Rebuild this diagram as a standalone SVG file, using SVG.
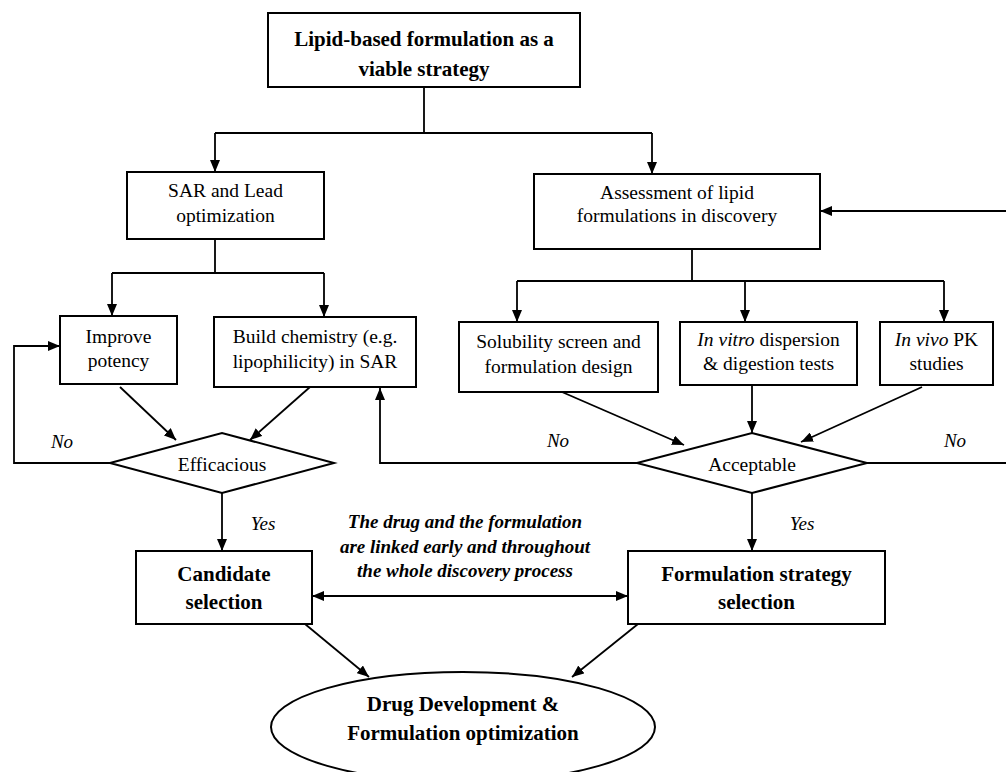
<svg xmlns="http://www.w3.org/2000/svg" width="1006" height="772" viewBox="0 0 1006 772">
<defs>
<marker id="ah" markerUnits="userSpaceOnUse" markerWidth="12" markerHeight="10" refX="12" refY="5" orient="auto-start-reverse">
<path d="M0,0 L12,5 L0,10 z" fill="#000"/>
</marker>
<style>
.box{fill:#fff;stroke:#000;stroke-width:2}
.ln{fill:none;stroke:#000;stroke-width:1.8}
.ar{fill:none;stroke:#000;stroke-width:1.8;marker-end:url(#ah)}
text{font-family:"Liberation Serif","Times New Roman",serif;fill:#000;text-anchor:middle}
.t{font-size:19.5px}
.b{font-size:21px;font-weight:bold}
.i{font-style:italic}
.lab{font-size:19px;font-style:italic}
.note{font-size:19px;font-weight:bold;font-style:italic}
</style>
</defs>
<rect width="1006" height="772" fill="#fff"/>

<g id="connectors">
<path class="ln" d="M424,87 V133 M215,133 H652"/>
<path class="ar" d="M215,133 V172"/>
<path class="ar" d="M652,133 V174"/>
<path class="ln" d="M215,239 V273 M112,273 H324"/>
<path class="ar" d="M112,273 V316"/>
<path class="ar" d="M324,273 V317"/>
<path class="ar" d="M120,387 L176,440"/>
<path class="ar" d="M310,387 L250,440"/>
<path class="ar" d="M110,463 H14 V346 H60"/>
<path class="ar" d="M222,493 V551"/>
<path class="ar" d="M1006,211 H820"/>
<path class="ln" d="M692,249 V281 M517,281 H944"/>
<path class="ar" d="M517,281 V322"/>
<path class="ar" d="M745,281 V322"/>
<path class="ar" d="M944,281 V322"/>
<path class="ar" d="M562,392 L684,445"/>
<path class="ar" d="M752,385 V433"/>
<path class="ar" d="M922,387 L801,442"/>
<path class="ar" d="M637,463 H380 V388"/>
<path class="ln" d="M867,463 H1006"/>
<path class="ar" d="M752,493 V551"/>
<path class="ar" d="M312,596 H628" style="marker-start:url(#ah)"/>
<path class="ar" d="M305,624 L369,677"/>
<path class="ar" d="M638,624 L572,677"/>
</g>

<g id="labels">
<text class="lab" x="62" y="448">No</text>
<text class="lab" x="558" y="447">No</text>
<text class="lab" x="955" y="447">No</text>
<text class="lab" x="263" y="530">Yes</text>
<text class="lab" x="802" y="530">Yes</text>
<text class="note" x="465" y="528">The drug and the formulation</text>
<text class="note" x="465" y="553">are linked early and throughout</text>
<text class="note" x="465" y="577">the whole discovery process</text>
</g>

<g id="n-top">
<rect class="box" x="268" y="13" width="312" height="74"/>
<text class="b" x="424" y="46">Lipid-based formulation as a</text>
<text class="b" x="424" y="76">viable strategy</text>
</g>

<g id="n-sar">
<rect class="box" x="127" y="172" width="197" height="67"/>
<text class="t" x="225.5" y="197">SAR and Lead</text>
<text class="t" x="225.5" y="222">optimization</text>
</g>

<g id="n-assess">
<rect class="box" x="534" y="174" width="286" height="75"/>
<text class="t" x="677" y="199">Assessment of lipid</text>
<text class="t" x="677" y="222">formulations in discovery</text>
</g>

<g id="n-potency">
<rect class="box" x="60" y="316" width="117" height="68"/>
<text class="t" x="118.5" y="343">Improve</text>
<text class="t" x="118.5" y="367">potency</text>
</g>

<g id="n-build">
<rect class="box" x="214" y="317" width="202" height="70"/>
<text class="t" x="315" y="343">Build chemistry (e.g.</text>
<text class="t" x="315" y="368">lipophilicity) in SAR</text>
</g>

<g id="n-solubility">
<rect class="box" x="459" y="322" width="199" height="70"/>
<text class="t" x="558.5" y="348">Solubility screen and</text>
<text class="t" x="558.5" y="373">formulation design</text>
</g>

<g id="n-invitro">
<rect class="box" x="680" y="322" width="177" height="63"/>
<text class="t" x="768.5" y="346"><tspan class="i">In vitro</tspan> dispersion</text>
<text class="t" x="768.5" y="370">&amp; digestion tests</text>
</g>

<g id="n-invivo">
<rect class="box" x="880" y="322" width="113" height="63"/>
<text class="t" x="936.5" y="346"><tspan class="i">In vivo</tspan> PK</text>
<text class="t" x="936.5" y="370">studies</text>
</g>

<g id="n-efficacious">
<polygon class="box" points="110,463 222,433 334,463 222,493"/>
<text class="t" x="222" y="471">Efficacious</text>
</g>

<g id="n-acceptable">
<polygon class="box" points="637,463 752,433 867,463 752,493"/>
<text class="t" x="752" y="471">Acceptable</text>
</g>

<g id="n-candidate">
<rect class="box" x="136" y="551" width="176" height="73"/>
<text class="b" x="224" y="581">Candidate</text>
<text class="b" x="224" y="609">selection</text>
</g>

<g id="n-formstrategy">
<rect class="box" x="628" y="551" width="257" height="73"/>
<text class="b" x="756.5" y="581">Formulation strategy</text>
<text class="b" x="756.5" y="609">selection</text>
</g>

<g id="n-development">
<ellipse class="box" cx="463" cy="727" rx="192" ry="55"/>
<text class="b" x="463" y="711">Drug Development &amp;</text>
<text class="b" x="463" y="740">Formulation optimization</text>
</g>
</svg>
